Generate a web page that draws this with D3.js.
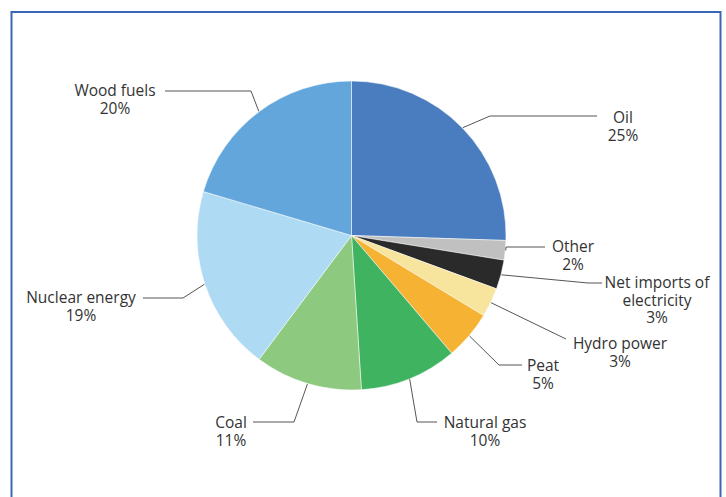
<!DOCTYPE html>
<html>
<head>
<meta charset="utf-8">
<script src="https://cdn.jsdelivr.net/npm/d3@7"></script>
<style>
  html, body { margin: 0; padding: 0; background: #fff; }
  svg { display: block; }
  text { font-family: "Open Sans", sans-serif; font-size: 15.5px; fill: #333; }
</style>
</head>
<body>
<svg id="chart" width="726" height="497"></svg>
<script>
// ---- data ----
const categories = ["Oil", "Other", "Net imports of electricity", "Hydro power", "Peat", "Natural gas", "Coal", "Nuclear energy", "Wood fuels"];
const values = [25, 2, 3, 3, 5, 10, 11, 19, 20];
const labelLines = [["Oil"], ["Other"], ["Net imports of", "electricity"], ["Hydro power"], ["Peat"], ["Natural gas"], ["Coal"], ["Nuclear energy"], ["Wood fuels"]];
const colors = ["#4a7dbf", "#c0c0c0", "#2a2a2a", "#f7e59d", "#f6b233", "#3fb35f", "#8dca80", "#afdaf3", "#62a6db"];

// ---- layout (label placement) ----
const cx = 351.5, cy = 235.5, radius = 154.5;
const labelLayout = [
  { elbow: [490, 116], end: 597, tx: 623, ty: 123 },
  { elbow: [506, 247], end: 545, tx: 573, ty: 252 },
  { elbow: [588, 283], end: 602, tx: 657, ty: 288 },
  { elbow: [566, 339], end: 566, tx: 620, ty: 349 },
  { elbow: [499, 365], end: 522, tx: 543, ty: 371 },
  { elbow: [417, 422], end: 437, tx: 485, ty: 428 },
  { elbow: [294, 422], end: 253, tx: 231, ty: 428 },
  { elbow: [183, 298], end: 143, tx: 81, ty: 303 },
  { elbow: [251, 91], end: 165, tx: 115, ty: 96 }
];
const lineH = 17.5;

const svg = d3.select("#chart");

// frame
svg.append("rect")
  .attr("x", 11.5).attr("y", 12)
  .attr("width", 709).attr("height", 500)
  .attr("fill", "none")
  .attr("stroke", "#3a66b6")
  .attr("stroke-width", 2);

const data = categories.map((c, i) => ({ name: c, value: values[i], color: colors[i], lines: labelLines[i], layout: labelLayout[i] }));

const pie = d3.pie().sort(null).value(d => d.value);
const arcs = pie(data);
const arc = d3.arc().innerRadius(0).outerRadius(radius);

const g = svg.append("g").attr("transform", `translate(${cx},${cy})`);

g.selectAll("path.slice")
  .data(arcs)
  .join("path")
  .attr("class", "slice")
  .attr("d", arc)
  .attr("fill", d => d.data.color)
  .attr("stroke", "#ffffff")
  .attr("stroke-width", 0.5);

// leader lines
svg.selectAll("polyline.leader")
  .data(arcs)
  .join("polyline")
  .attr("class", "leader")
  .attr("fill", "none")
  .attr("stroke", "#555")
  .attr("stroke-width", 1)
  .attr("points", d => {
    const a = (d.startAngle + d.endAngle) / 2;
    const sx = cx + (radius + 0.5) * Math.sin(a);
    const sy = cy - (radius + 0.5) * Math.cos(a);
    const L = d.data.layout;
    return [[sx, sy], L.elbow, [L.end, L.elbow[1]]].map(p => p.join(",")).join(" ");
  });

// labels: one text element per row
const rowsData = [];
arcs.forEach(d => {
  const L = d.data.layout;
  d.data.lines.concat([d.data.value + "%"]).forEach((r, i) => {
    rowsData.push({ text: r, x: L.tx, y: L.ty + i * lineH });
  });
});

svg.selectAll("text.label")
  .data(rowsData)
  .join("text")
  .attr("class", "label")
  .attr("text-anchor", "middle")
  .attr("x", d => d.x)
  .attr("y", d => d.y)
  .text(d => d.text);
</script>
</body>
</html>
